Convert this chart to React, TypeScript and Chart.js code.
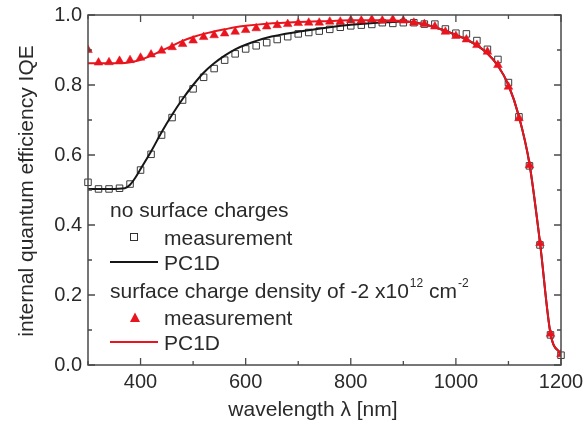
import React, { useEffect, useRef } from "react";
import { Chart, registerables } from "chart.js";

Chart.register(...registerables);

// ---- data ----
const wavelengthsMeas = [
  300, 320, 340, 360, 380, 400, 420, 440, 460, 480, 500, 520, 540, 560, 580, 600,
  620, 640, 660, 680, 700, 720, 740, 760, 780, 800, 820, 840, 860, 880, 900, 920,
  940, 960, 980, 1000, 1020, 1040, 1060, 1080, 1100, 1120, 1140, 1160, 1180, 1200,
];
const measNoCharges = [
  0.522, 0.503, 0.503, 0.505, 0.517, 0.557, 0.602, 0.657, 0.707, 0.757, 0.789, 0.822,
  0.847, 0.871, 0.889, 0.903, 0.912, 0.921, 0.93, 0.938, 0.946, 0.95, 0.954, 0.959,
  0.965, 0.969, 0.971, 0.973, 0.978, 0.976, 0.978, 0.978, 0.974, 0.974, 0.96, 0.948,
  0.946, 0.927, 0.902, 0.873, 0.807, 0.709, 0.569, 0.343, 0.086, 0.028,
];
const measCharges = [
  0.9, 0.864, 0.865, 0.869, 0.871, 0.878, 0.887, 0.898, 0.908, 0.917, 0.927, 0.937,
  0.942, 0.947, 0.952, 0.957, 0.962, 0.967, 0.971, 0.974, 0.977, 0.978, 0.978, 0.981,
  0.981, 0.985, 0.984, 0.987, 0.984, 0.987, 0.984, 0.978, 0.974, 0.967, 0.952, 0.94,
  0.93, 0.914, 0.895, 0.857, 0.795, 0.705, 0.571, 0.348, 0.089, 0.031,
];

const wavelengthsModel = [
  300, 340, 370, 380, 390, 400, 420, 440, 460, 480, 500, 520, 540, 560, 580, 600, 640,
  700, 760, 800, 850, 880, 900, 940, 980, 1000, 1020, 1040, 1060, 1080, 1100, 1120,
  1140, 1160, 1180, 1200,
];
const pc1dNoCharges = [
  0.503, 0.503, 0.505, 0.515, 0.535, 0.56, 0.61, 0.665, 0.715, 0.76, 0.8, 0.835, 0.862,
  0.884, 0.902, 0.915, 0.935, 0.952, 0.965, 0.972, 0.978, 0.98, 0.982, 0.973, 0.955,
  0.943, 0.93, 0.913, 0.89, 0.855, 0.8, 0.71, 0.575, 0.35, 0.09, 0.03,
];
const pc1dCharges = [
  0.862, 0.862, 0.863, 0.865, 0.868, 0.872, 0.884, 0.898, 0.912, 0.926, 0.937, 0.946,
  0.953, 0.959, 0.965, 0.969, 0.975, 0.98, 0.983, 0.985, 0.985, 0.984, 0.982, 0.973,
  0.955, 0.943, 0.93, 0.913, 0.89, 0.855, 0.8, 0.71, 0.575, 0.35, 0.09, 0.03,
];

const xMajorTicks = [400, 600, 800, 1000, 1200];
const xMinorTicks = [300, 500, 700, 900, 1100];
const yMajorTicks = [0, 0.2, 0.4, 0.6, 0.8, 1.0];
const yMinorTicks = [0.1, 0.3, 0.5, 0.7, 0.9];

const xTitle = "wavelength λ [nm]";
const yTitle = "internal quantum efficiency IQE";
const legendGroup1 = "no surface charges";
const legendGroup2 = "surface charge density of -2 x10";
const legendMeas = "measurement";
const legendModel = "PC1D";

const RED = "#e8141e";
const BLACK = "#161616";
const AXIS = "#4a4a4a";
const TEXT = "#2a2a2a";
const FONT = '"Liberation Sans", Arial, sans-serif';

const toPts = (xs: number[], ys: number[]) => xs.map((x, i) => ({ x, y: ys[i] }));

const decorPlugin = {
  id: "decor",
  afterDraw(chart: any) {
    const ctx = chart.ctx as CanvasRenderingContext2D;
    const xs = chart.scales.x;
    const ys = chart.scales.y;
    const { left, right, top, bottom } = chart.chartArea;
    ctx.save();
    // frame
    ctx.strokeStyle = AXIS;
    ctx.lineWidth = 1.5;
    ctx.strokeRect(left, top, right - left, bottom - top);
    // ticks (inward, mirrored)
    const tickX = (v: number, len: number) => {
      const px = xs.getPixelForValue(v);
      ctx.beginPath();
      ctx.moveTo(px, bottom);
      ctx.lineTo(px, bottom - len);
      ctx.moveTo(px, top);
      ctx.lineTo(px, top + len);
      ctx.stroke();
    };
    const tickY = (v: number, len: number) => {
      const py = ys.getPixelForValue(v);
      ctx.beginPath();
      ctx.moveTo(left, py);
      ctx.lineTo(left + len, py);
      ctx.moveTo(right, py);
      ctx.lineTo(right - len, py);
      ctx.stroke();
    };
    ctx.lineWidth = 1.3;
    xMajorTicks.forEach((v) => tickX(v, 7));
    xMinorTicks.forEach((v) => tickX(v, 4));
    yMajorTicks.forEach((v) => tickY(v, 7));
    yMinorTicks.forEach((v) => tickY(v, 4));

    // tick labels
    ctx.fillStyle = TEXT;
    ctx.font = `20px ${FONT}`;
    ctx.textAlign = "center";
    ctx.textBaseline = "alphabetic";
    xMajorTicks.forEach((v) => {
      ctx.fillText(String(v), xs.getPixelForValue(v), 388);
    });
    ctx.textAlign = "right";
    ctx.textBaseline = "middle";
    yMajorTicks.forEach((v) => {
      ctx.fillText(v.toFixed(1), left - 6, ys.getPixelForValue(v));
    });

    // axis titles
    ctx.font = `21px ${FONT}`;
    ctx.textAlign = "center";
    ctx.textBaseline = "alphabetic";
    ctx.fillText(xTitle, 313, 416);
    ctx.save();
    ctx.translate(33, 191);
    ctx.rotate(-Math.PI / 2);
    ctx.fillText(yTitle, 0, 0);
    ctx.restore();

    // legend
    ctx.textAlign = "left";
    ctx.textBaseline = "alphabetic";
    ctx.font = `21px ${FONT}`;
    ctx.fillText(legendGroup1, 110, 217);
    ctx.fillText(legendMeas, 164, 245);
    ctx.fillText(legendModel, 164, 270);
    let x = 110;
    ctx.fillText(legendGroup2, x, 298);
    x += ctx.measureText(legendGroup2).width + 1;
    ctx.font = `12px ${FONT}`;
    ctx.fillText("12", x, 287);
    x += ctx.measureText("12").width;
    ctx.font = `21px ${FONT}`;
    ctx.fillText(" cm", x, 298);
    x += ctx.measureText(" cm").width + 1;
    ctx.font = `12px ${FONT}`;
    ctx.fillText("-2", x, 287);
    ctx.font = `21px ${FONT}`;
    ctx.fillText(legendMeas, 164, 325);
    ctx.fillText(legendModel, 164, 350);

    // legend symbols
    ctx.strokeStyle = "#333";
    ctx.lineWidth = 1;
    ctx.strokeRect(130.5, 233.5, 7, 7);
    ctx.strokeStyle = BLACK;
    ctx.lineWidth = 2;
    ctx.beginPath();
    ctx.moveTo(110, 262);
    ctx.lineTo(158, 262);
    ctx.stroke();
    ctx.fillStyle = RED;
    ctx.beginPath();
    ctx.moveTo(135, 312.5);
    ctx.lineTo(140, 322);
    ctx.lineTo(130, 322);
    ctx.closePath();
    ctx.fill();
    ctx.strokeStyle = RED;
    ctx.lineWidth = 2;
    ctx.beginPath();
    ctx.moveTo(110, 342);
    ctx.lineTo(158, 342);
    ctx.stroke();
    ctx.restore();
  },
};

export default function App() {
  const ref = useRef<HTMLCanvasElement | null>(null);
  useEffect(() => {
    if (!ref.current) return;
    const chart = new Chart(ref.current, {
      type: "scatter",
      data: {
        datasets: [
          {
            label: "PC1D charges",
            data: toPts(wavelengthsModel, pc1dCharges),
            showLine: true,
            borderColor: RED,
            borderWidth: 2,
            pointRadius: 0,
            cubicInterpolationMode: "monotone",
          },
          {
            label: "measurement charges",
            data: toPts(wavelengthsMeas, measCharges),
            showLine: false,
            pointStyle: "triangle",
            pointRadius: 5,
            backgroundColor: RED,
            borderColor: RED,
            borderWidth: 0.5,
            clip: 0,
          },
          {
            label: "PC1D no charges",
            data: toPts(wavelengthsModel, pc1dNoCharges),
            showLine: true,
            borderColor: BLACK,
            borderWidth: 2,
            pointRadius: 0,
            cubicInterpolationMode: "monotone",
          },
          {
            label: "measurement no charges",
            data: toPts(wavelengthsMeas, measNoCharges),
            showLine: false,
            pointStyle: "rect",
            pointRadius: 4.6,
            backgroundColor: "rgba(255,255,255,0)",
            borderColor: "#3a3a3a",
            borderWidth: 1,
            clip: 5,
          },
        ],
      },
      options: {
        responsive: false,
        animation: false,
        layout: { padding: { left: 88, right: 23, top: 15, bottom: 60 } },
        plugins: { legend: { display: false }, tooltip: { enabled: false } },
        scales: {
          x: { type: "linear", min: 300, max: 1200, display: false },
          y: { type: "linear", min: 0, max: 1.0, display: false },
        },
      },
      plugins: [decorPlugin],
    } as any);
    return () => chart.destroy();
  }, []);
  return (
    <div style={{ position: "fixed", left: 0, top: 0, width: 584, height: 425, background: "#fff" }}>
      <canvas ref={ref} width={584} height={425} />
    </div>
  );
}
